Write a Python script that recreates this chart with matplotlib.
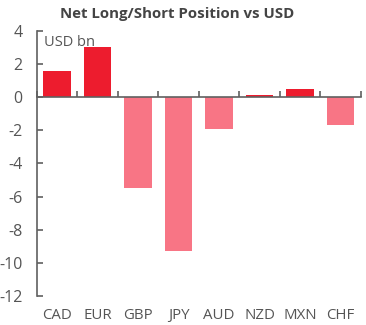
import numpy as np
import matplotlib.pyplot as plt
from matplotlib import transforms

plt.rcParams['font.family'] = ['Open Sans', 'DejaVu Sans']

currencies = ['CAD', 'EUR', 'GBP', 'JPY', 'AUD', 'NZD', 'MXN', 'CHF']
positions = [1.6, 3.0, -5.45, -9.3, -1.95, 0.12, 0.52, -1.7]  # USD bn
y_ticks = [4, 2, 0, -2, -4, -6, -8, -10, -12]

long_color = '#ED1C2E'
short_color = '#F87585'
axis_grey = '#606060'
text_grey = '#555555'

fig = plt.figure(figsize=(3.66, 3.25), dpi=100)
ax = fig.add_axes([0.101, 0.089, 0.885, 0.816])

x = np.arange(len(currencies))
colors = [long_color if v >= 0 else short_color for v in positions]
ax.bar(x, positions, width=0.68, color=colors, zorder=2)

ax.set_xlim(-0.5, len(currencies) - 0.5)
ax.set_ylim(-12, 4)
ax.set_yticks(y_ticks)
ax.set_yticklabels([str(t) for t in y_ticks])

for side in ['top', 'right']:
    ax.spines[side].set_visible(False)
ax.spines['bottom'].set_position(('data', 0))
ax.spines['bottom'].set_color(axis_grey)
ax.spines['bottom'].set_linewidth(1.2)
ax.spines['bottom'].set_zorder(3)
ax.spines['left'].set_color(axis_grey)
ax.spines['left'].set_linewidth(1.2)

ax.tick_params(axis='y', direction='in', length=4.5, width=1.2, color=axis_grey,
               labelcolor=text_grey, labelsize=11.5, pad=10.5)
# category separators on the zero line
ax.set_xticks(np.arange(len(currencies) + 1) - 0.5)
ax.set_xticklabels([])
ax.tick_params(axis='x', direction='in', length=4.5, width=1.2, color=axis_grey)

# currency labels sit along the bottom of the plot
trans = transforms.blended_transform_factory(ax.transData, ax.transAxes)
for xi, name in zip(x, currencies):
    ax.text(xi, -0.045, name, transform=trans, ha='center', va='top',
            fontsize=10.8, color=text_grey)

ax.text(0.022, 0.955, 'USD bn', transform=ax.transAxes, ha='left', va='center',
        fontsize=10.5, color=text_grey)

fig.text(0.485, 0.957, 'Net Long/Short Position vs USD', ha='center', va='center',
         fontsize=10.8, fontweight='bold', color='#444444')

fig.savefig('out.png', dpi=100)
